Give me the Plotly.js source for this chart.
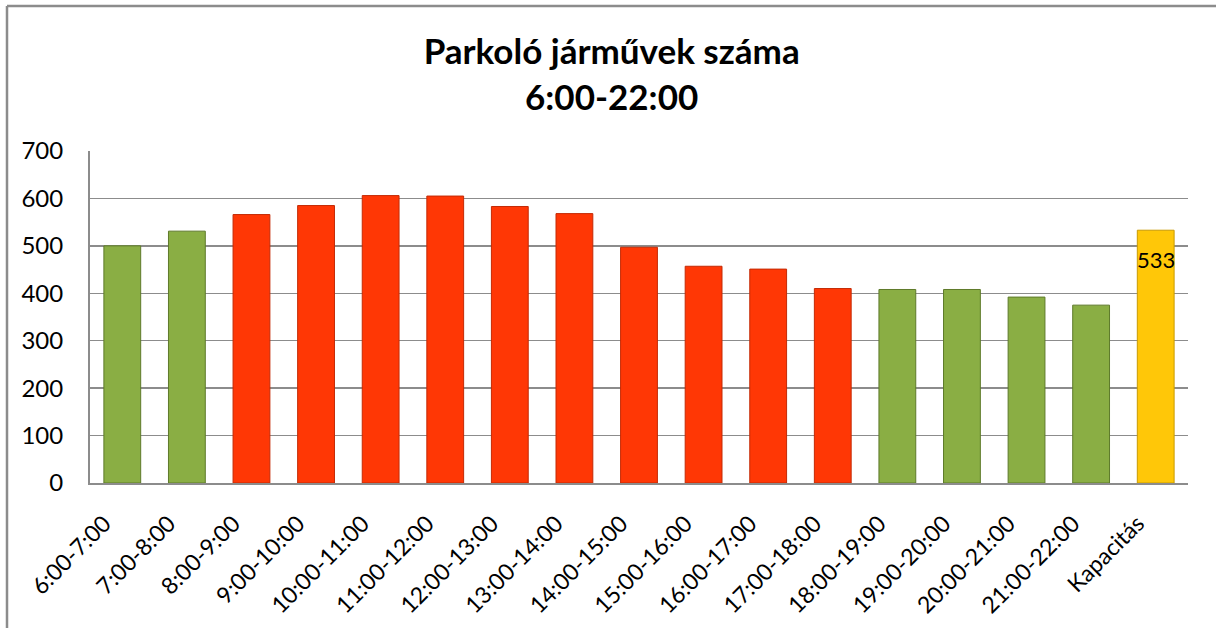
<!DOCTYPE html>
<html>
<head>
<meta charset="utf-8">
<script src="https://cdn.plot.ly/plotly-3.0.1.min.js"></script>
<style>
html,body{margin:0;padding:0;background:#fff;}
#chart{width:1216px;height:628px;}
</style>
</head>
<body>
<div id="chart"></div>
<script>
const categories = ["6:00-7:00","7:00-8:00","8:00-9:00","9:00-10:00","10:00-11:00","11:00-12:00","12:00-13:00","13:00-14:00","14:00-15:00","15:00-16:00","16:00-17:00","17:00-18:00","18:00-19:00","19:00-20:00","20:00-21:00","21:00-22:00","Kapacitás"];
const vehicles = [500,531,566,585,606,605,583,568,497,457,451,410,408,408,392,375,533];
const barColors = ["#8aae44","#8aae44","#ff3705","#ff3705","#ff3705","#ff3705","#ff3705","#ff3705","#ff3705","#ff3705","#ff3705","#ff3705","#8aae44","#8aae44","#8aae44","#8aae44","#ffc708"];
const edgeColors = ["#5e7a2a","#5e7a2a","#c42a05","#c42a05","#c42a05","#c42a05","#c42a05","#c42a05","#c42a05","#c42a05","#c42a05","#c42a05","#5e7a2a","#5e7a2a","#5e7a2a","#5e7a2a","#c99a00"];
const capacityLabel = "533";
const titleText = "Parkoló járművek száma<br>6:00-22:00";
const yTicks = [0,100,200,300,400,500,600,700];

const F = "Lato, 'Open Sans', sans-serif";

const trace = {
  type: "bar",
  x: categories,
  y: vehicles,
  marker: {color: barColors, line: {color: edgeColors, width: 1}},
  hoverinfo: "x+y"
};

const lastIdx = categories.length - 1;

const layout = {
  width: 1216, height: 628,
  margin: {l: 90, r: 28, t: 151, b: 145},
  paper_bgcolor: "#ffffff",
  plot_bgcolor: "#ffffff",
  bargap: 0.43,
  showlegend: false,
  title: {
    text: titleText,
    font: {family: F, size: 35, color: "#000", weight: "bold"},
    x: 0.503, xanchor: "center",
    y: 0.898, yanchor: "top"
  },
  xaxis: {
    type: "category",
    tickangle: -45,
    tickfont: {family: F, size: 23, color: "#000"},
    showline: true, linecolor: "#8c8c8c", linewidth: 2,
    ticks: "", showgrid: false,
    ticklabelstandoff: 16,
    ticklabelshift: -18
  },
  yaxis: {
    range: [0, 700],
    tickvals: yTicks,
    ticktext: yTicks.map(String),
    tickfont: {family: F, size: 24, color: "#000"},
    showline: true, linecolor: "#8c8c8c", linewidth: 2,
    gridcolor: "#8c8c8c", gridwidth: 1.5,
    zeroline: false, ticks: "", ticklen: 0,
    ticklabelstandoff: 20
  },
  annotations: [{
    x: categories[lastIdx], y: vehicles[lastIdx],
    xref: "x", yref: "y",
    text: capacityLabel, showarrow: false,
    yshift: -29,
    font: {family: F, size: 22, color: "#000"}
  }],
  shapes: [
    {type: "line", xref: "paper", yref: "paper",
     x0: (7-90)/1098, x1: (7-90)/1098, y0: (483-640)/332, y1: (483-6)/332,
     line: {color: "#8c8c8c", width: 2.5}},
    {type: "line", xref: "paper", yref: "paper",
     x0: (7-90)/1098, x1: (1230-90)/1098, y0: (483-6)/332, y1: (483-6)/332,
     line: {color: "#8c8c8c", width: 2.5}}
  ]
};

Plotly.newPlot("chart", [trace], layout, {displayModeBar: false, staticPlot: true});
</script>
</body>
</html>
